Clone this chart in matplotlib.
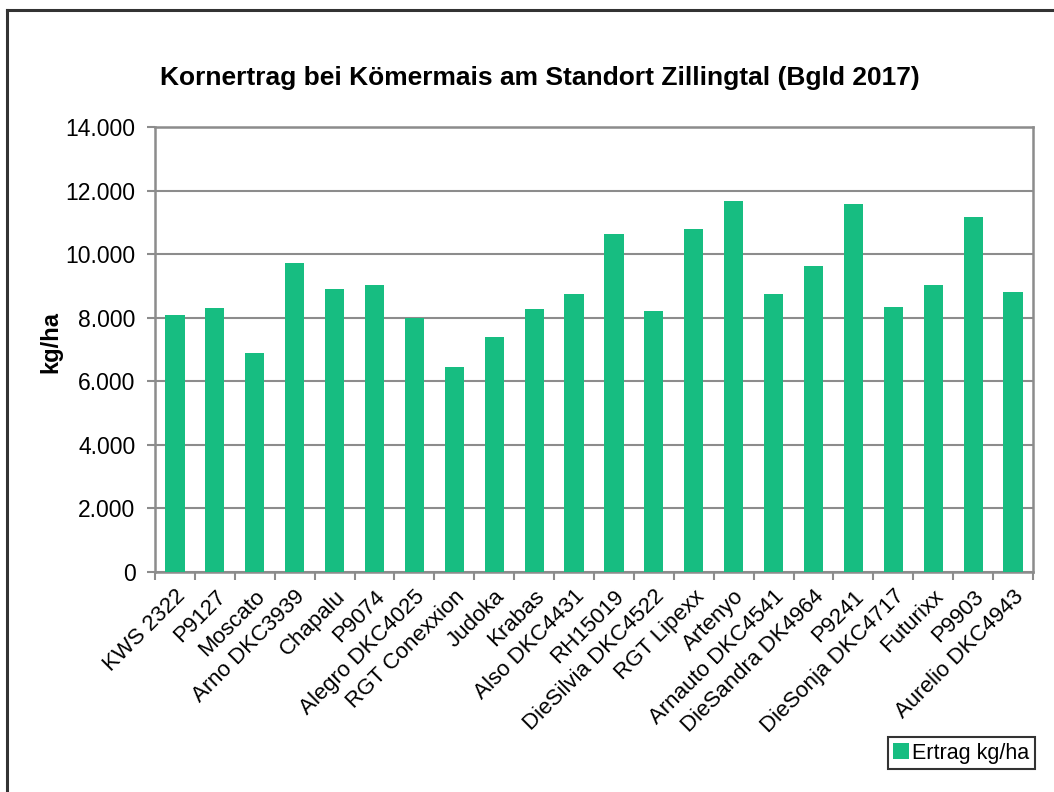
import numpy as np
import matplotlib.pyplot as plt
from matplotlib.ticker import FuncFormatter

plt.rcParams['font.family'] = ['Liberation Sans', 'DejaVu Sans']

sorten = ["KWS 2322", "P9127", "Moscato", "Arno DKC3939", "Chapalu", "P9074",
          "Alegro DKC4025", "RGT Conexxion", "Judoka", "Krabas", "Also DKC4431",
          "RH15019", "DieSilvia DKC4522", "RGT Lipexx", "Artenyo", "Arnauto DKC4541",
          "DieSandra DK4964", "P9241", "DieSonja DKC4717", "Futurixx", "P9903",
          "Aurelio DKC4943"]
ertrag = [8080, 8290, 6880, 9710, 8890, 9035, 8005, 6460, 7400, 8280, 8750,
          10630, 8220, 10780, 11660, 8760, 9630, 11580, 8340, 9025, 11170, 8810]

gruen = '#17bd81'
grau = '#8c8c8c'

fig = plt.figure(figsize=(10.54, 7.92), dpi=100)
ax = fig.add_axes([155/1054, 1-572/792, (1033-155)/1054, (572-127)/792])

x = np.arange(len(sorten))
ax.bar(x, ertrag, width=0.48, color=gruen, label='Ertrag kg/ha', zorder=3)

ax.set_xlim(-0.5, len(sorten)-0.5)
ax.set_ylim(0, 14000)
ax.set_yticks(np.arange(0, 14001, 2000))
ax.yaxis.set_major_formatter(FuncFormatter(lambda v, p: f"{int(v):,}".replace(',', '.')))
ax.grid(axis='y', color=grau, lw=1.5, zorder=0)

ax.set_xticks(x)
ax.set_xticklabels(sorten, rotation=45, ha='right', rotation_mode='anchor', fontsize=16)
ax.set_xticks(np.arange(-0.5, len(sorten)), minor=True)
ax.tick_params(axis='x', which='major', length=0, pad=10)
ax.tick_params(axis='x', which='minor', length=6, color=grau, width=1.5)
ax.tick_params(axis='y', length=6, color=grau, width=1.5, labelsize=16.5, pad=8)

for s in ax.spines.values():
    s.set_color(grau)
    s.set_linewidth(1.8)

fig.text(51/1054, 1-342/792, 'kg/ha', rotation=90, ha='center', va='center',
         fontsize=17, fontweight='bold')

fig.text(540/1054, 1-78/792, 'Kornertrag bei Kömermais am Standort Zillingtal (Bgld 2017)',
         ha='center', va='center', fontsize=19, fontweight='bold')

leg = ax.legend(loc='lower right', bbox_to_anchor=(1035/1054, 1-769/792),
                bbox_transform=fig.transFigure, fontsize=15.5, frameon=True, fancybox=False,
                handlelength=0.75, handleheight=0.75, handletextpad=0.15, borderpad=0.25,
                borderaxespad=0)
leg.get_frame().set_edgecolor('black')
leg.get_frame().set_linewidth(1.5)

# Rahmen um das Diagramm
fig.add_artist(plt.Line2D([7/1054, 7/1054], [0, 1-10/792], color='#333333', lw=2.2))
fig.add_artist(plt.Line2D([7/1054, 1], [1-10/792, 1-10/792], color='#333333', lw=2.2))

fig.savefig('out.png', dpi=100)
